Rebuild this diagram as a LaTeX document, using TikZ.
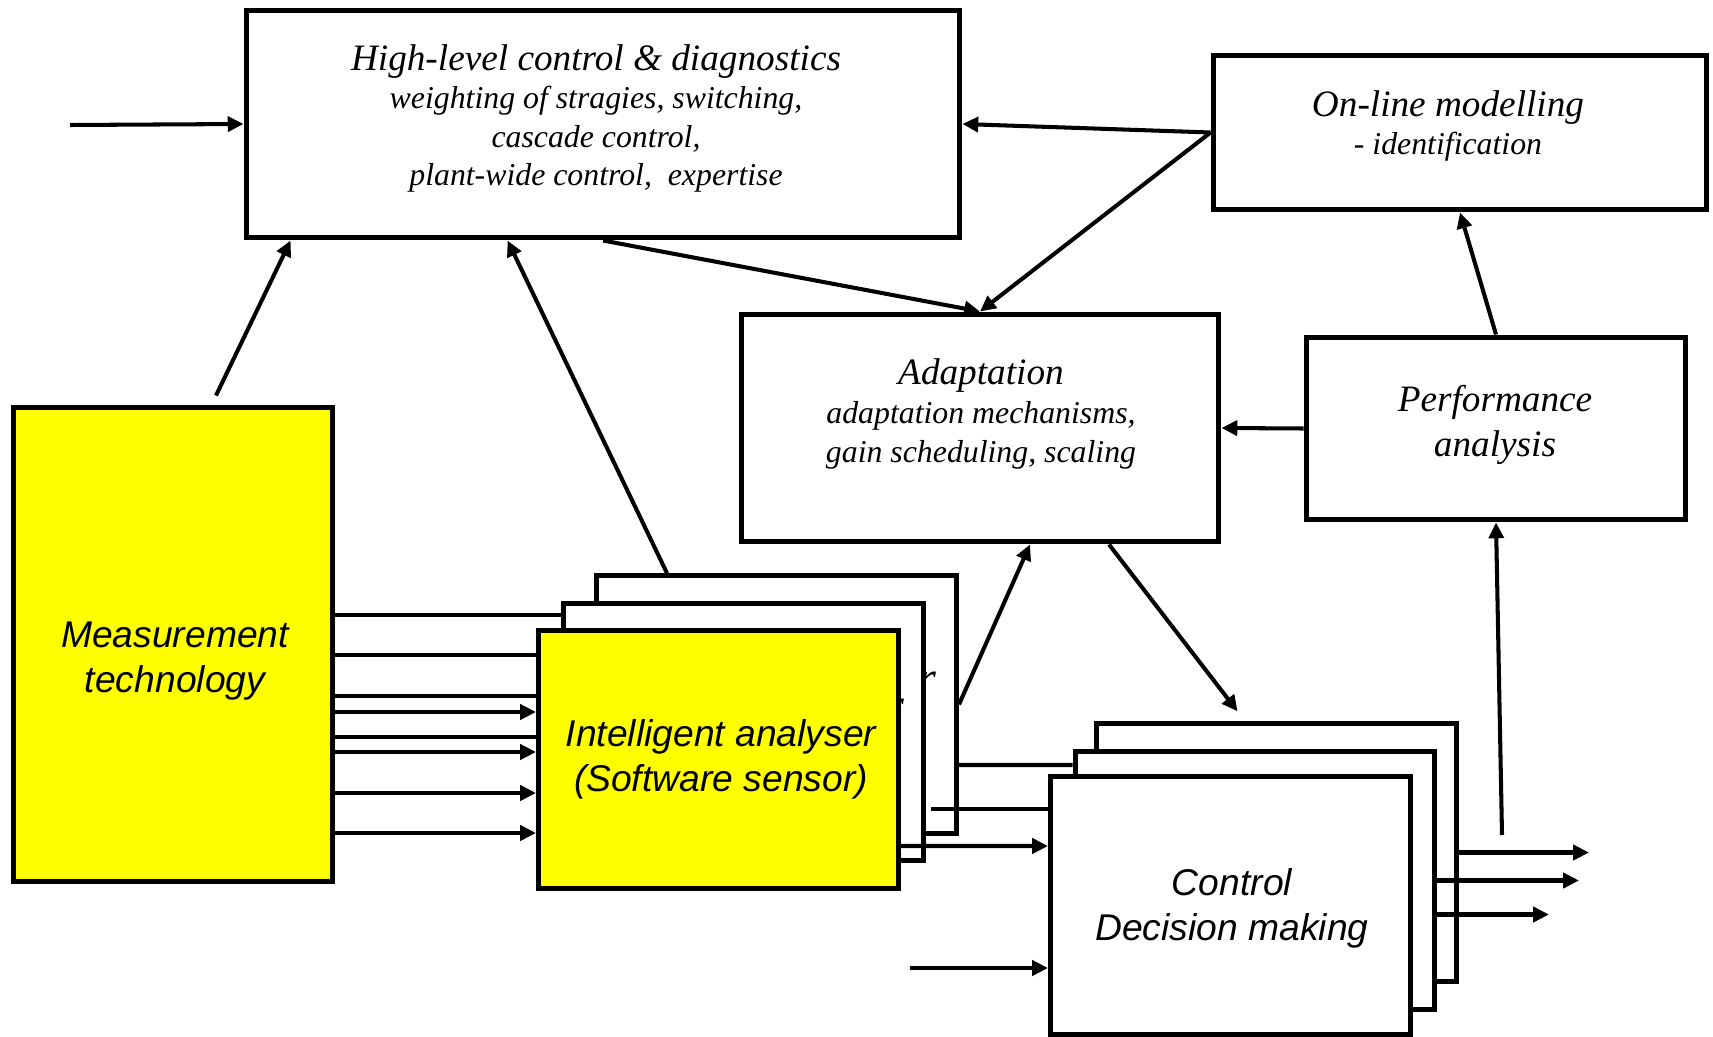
\documentclass[tikz,border=0pt]{standalone}
\usepackage{fontspec}
\setmainfont{Liberation Serif}
\setsansfont{Liberation Sans}
\usetikzlibrary{arrows.meta,calc}

\definecolor{sensoryellow}{RGB}{255,255,0}
\newcommand\ttlsize{\fontsize{21.2}{24.5}\selectfont\itshape}
\newcommand\subsize{\fontsize{18.1}{22}\selectfont\itshape}

\begin{document}
\begin{tikzpicture}[x=0.02cm, y=-0.02cm,
    box/.style={draw, line width=2.85pt, fill=white, inner sep=0pt},
    ybox/.style={box, fill=sensoryellow},
    stack/.style={box, minimum width=7.2cm, minimum height=5.15cm},
    link/.style={line width=2.3pt},
    arr/.style={link, -{Triangle[length=9pt,width=8.5pt]}},
    txt/.style={align=center, inner sep=0pt, font=\subsize},
    lbl/.style={align=center, inner sep=0pt, font={\fontsize{21.2}{25.6}\selectfont\sffamily\itshape}},
    ghost/.style={inner sep=0pt, font={\fontsize{26}{30}\selectfont\itshape}}]
    \path[fill=white, use as bounding box] (0,0) rectangle (1713,1037);

    % upper blocks (text nodes anchored at the baseline of their last line)
    \node[box, minimum width=14.28cm, minimum height=4.56cm] (hl) at (603,124) {};
    \node[box, minimum width=9.88cm, minimum height=3.1cm] (online) at (1460,132.5) {};
    \node[box, minimum width=9.56cm, minimum height=4.56cm] (adapt) at (980,428) {};
    \node[box, minimum width=7.6cm, minimum height=3.66cm] (perf) at (1496,428.5) {};

    \node[txt, anchor=base] (hltxt) at (596,186) {{\ttlsize High-level control \& diagnostics}\\
        weighting of stragies, switching,\\ cascade control,\\ plant-wide control,~ expertise};
    \node[txt, anchor=base, font={\fontsize{18.1}{22}\selectfont\itshape}] (onlinetxt) at (1448,155)
        {{\ttlsize On-line modelling}\\ - identification};
    \node[txt, anchor=base] (adapttxt) at (981,462) {{\ttlsize Adaptation}\\
        adaptation mechanisms,\\ gain scheduling, scaling};
    \node[txt, anchor=base, font={\fontsize{21.2}{25.6}\selectfont\itshape}] (perftxt) at (1495,456)
        {Performance\\ analysis};

    % measurement
    \node[ybox, minimum width=6.4cm, minimum height=9.5cm] (meas) at (173,644.5) {};
    \node[lbl, anchor=base] (meastxt) at (175,692) {Measurement\\ technology};

    % analyser stack
    \node[stack] (ana3) at (776.5,704.5) {};
    \node[ghost, anchor=base east] (ana3txt) at (937,693) {r};
    \node[stack] (ana2) at (743.5,732) {};
    \node[ghost, anchor=base east] (ana2txt) at (905,720) {r};
    \node[stack, fill=sensoryellow] (ana1) at (718.5,759.5) {};
    \node[lbl, anchor=base] (ana1txt) at (721,791) {Intelligent analyser\\ (Software sensor)};

    % control stack
    \node[stack] (ctl3) at (1276.5,852.5) {};
    \node[stack] (ctl2) at (1255,880.5) {};
    \node[stack] (ctl1) at (1230.5,905.5) {};
    \node[lbl, anchor=base] (ctl1txt) at (1232,940) {Control\\ Decision making};

    % connections
    \coordinate (hlin) at (70,125);
    \draw[arr] (hlin) -- (hl.west);
    \draw[arr] (online.west) -- (hl.east);
    \draw[arr] (online.west) -- (adapt.north);
    \draw[arr] (hl.south) -- (adapt.north);
    \draw[arr] ($(meas.north)+(43,-9)$) -- ($(hl.south west)+(47,0)$);
    \draw[arr] ($(ana3.north west)+(73,0)$) -- ($(hl.south west)+(264,0)$);
    \draw[arr] (ana3.east) -- ($(adapt.south)+(50,0)$);
    \draw[arr] ($(adapt.south)+(129,0)$) -- ($(ctl3.north)+(-39,-10)$);
    \draw[arr] (perf.west) -- (adapt.east);
    \draw[arr] (perf.north) -- (online.south);
    \coordinate (fb) at (1502,835);
    \draw[arr] (fb) -- (perf.south);

    \foreach \dy/\dst/\tip in {-29.5/ana2/link, 10.5/ana1/link, 51.5/ana1/link, 67.5/ana1/arr,
        92.5/ana1/link, 107.5/ana1/arr, 148.5/ana1/arr, 188.5/ana1/arr} {
        \coordinate (s) at ($(meas.east)+(0,\dy)$);
        \draw[\tip] (s) -- (s -| \dst.west);
    }

    \draw[link] ($(ana3.east)+(0,60.5)$) -- ($(ctl2.west)+(0,-115.5)$);
    \draw[link] ($(ana2.east)+(5,77)$) -- ($(ctl1.west)+(0,-96.5)$);
    \draw[arr] ($(ana1.east)+(0,86.5)$) -- ($(ctl1.west)+(0,-59.5)$);

    \coordinate (cin) at (910,968);
    \draw[arr] (cin) -- (cin -| ctl1.west);

    \coordinate (o1) at (1589,852.5);
    \coordinate (o2) at (1579,880.5);
    \coordinate (o3) at (1549,914.5);
    \draw[arr] (ctl3.east) -- (o1);
    \draw[arr] (ctl2.east) -- (o2);
    \draw[arr] ($(ctl2.east)+(0,34)$) -- (o3);
\end{tikzpicture}
\end{document}
